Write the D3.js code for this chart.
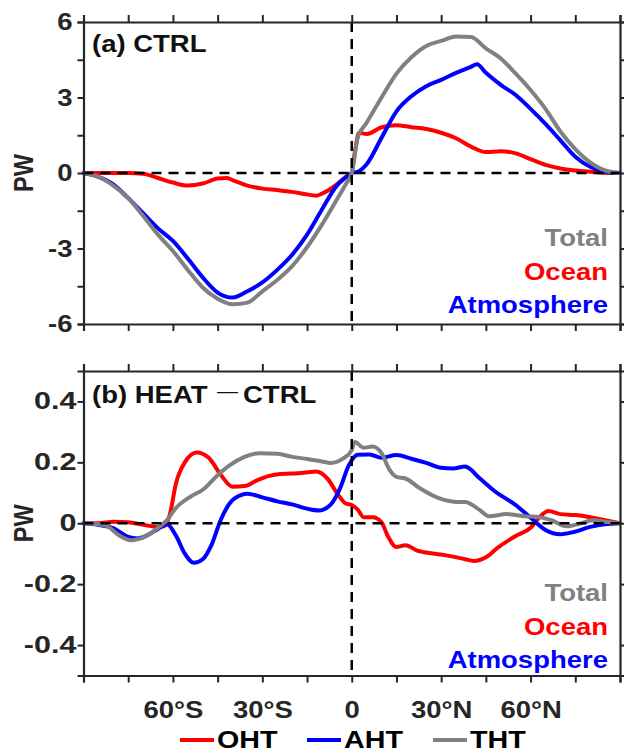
<!DOCTYPE html>
<html>
<head>
<meta charset="utf-8">
<script src="https://cdn.jsdelivr.net/npm/d3@7"></script>
<style>
  body { margin: 0; background: #fff; }
  svg text { font-family: "Liberation Sans", Arial, sans-serif; font-weight: bold; }
</style>
</head>
<body>
<div class="chart"></div>
<script>
// ---- data: (a) CTRL ----
const latOhtA = [-90, -85, -80, -75, -70, -65, -60, -55, -50, -45, -42, -40, -35, -30, -25, -20, -15, -12, -10, -5, -2, 0, 1, 2.5, 5, 10, 15, 20, 25, 30, 35, 40, 45, 50, 55, 60, 65, 70, 75, 80, 85, 90];
const ohtA = [0, 0, 0, 0, -0.03, -0.2, -0.38, -0.5, -0.42, -0.22, -0.2, -0.28, -0.5, -0.62, -0.68, -0.75, -0.85, -0.9, -0.82, -0.45, -0.15, 0, 0.8, 1.6, 1.55, 1.82, 1.9, 1.82, 1.75, 1.6, 1.38, 1.05, 0.83, 0.86, 0.78, 0.55, 0.32, 0.18, 0.1, 0.05, 0.01, 0];
const latAhtA = [-90, -85, -80, -75, -70, -65, -60, -55, -50, -45, -40, -35, -30, -25, -20, -15, -10, -5, -2, 0, 2, 5, 10, 15, 20, 25, 30, 35, 40, 42, 45, 50, 55, 60, 65, 70, 75, 80, 85, 90];
const ahtA = [0, -0.15, -0.45, -1.0, -1.6, -2.2, -2.7, -3.4, -4.15, -4.75, -4.95, -4.7, -4.35, -3.85, -3.25, -2.45, -1.45, -0.5, -0.18, 0, 0.05, 0.35, 1.4, 2.45, 3.05, 3.45, 3.7, 3.98, 4.22, 4.32, 3.98, 3.5, 3.1, 2.55, 1.95, 1.3, 0.65, 0.25, 0.05, 0];
const latThtA = [-90, -85, -80, -75, -70, -65, -60, -55, -50, -45, -40, -35, -30, -25, -20, -15, -10, -5, -2, 0, 2, 5, 10, 15, 20, 25, 30, 35, 40, 45, 50, 55, 60, 65, 70, 75, 80, 85, 90];
const thtA = [0, -0.15, -0.5, -1.0, -1.7, -2.45, -3.1, -3.85, -4.55, -5.0, -5.22, -5.15, -4.7, -4.25, -3.7, -2.95, -2.05, -1.05, -0.45, 0, 1.4, 2.0, 3.0, 3.95, 4.6, 5.05, 5.25, 5.42, 5.4, 4.95, 4.55, 3.95, 3.3, 2.55, 1.65, 0.95, 0.42, 0.1, 0];

// ---- data: (b) HEAT - CTRL ----
const latOhtB = [-90, -85, -80, -75, -70, -65, -63, -61, -59, -56, -52, -48, -44, -40, -36, -32, -28, -24, -20, -15, -12, -8, -5, -2, 0, 2, 4, 7, 10, 12, 15, 18, 22, 28, 33, 38, 41, 45, 49, 55, 60, 63, 66, 70, 75, 80, 85, 90];
const ohtB = [0, 0, 0.005, 0.003, -0.005, -0.012, -0.01, 0.03, 0.13, 0.2, 0.232, 0.215, 0.16, 0.12, 0.122, 0.14, 0.155, 0.162, 0.163, 0.167, 0.17, 0.145, 0.1, 0.065, 0.06, 0.045, 0.02, 0.02, 0.003, -0.04, -0.078, -0.072, -0.09, -0.1, -0.108, -0.118, -0.124, -0.112, -0.08, -0.042, -0.015, 0.02, 0.04, 0.03, 0.027, 0.02, 0.01, 0];
const latAhtB = [-90, -85, -80, -75, -72, -70, -66, -62, -59, -56, -53, -50, -47, -44, -41, -37, -35, -30, -25, -20, -15, -11, -7, -4, -1, 2, 6, 10, 15, 20, 25, 30, 34, 38, 43, 48, 55, 60, 65, 70, 74, 80, 85, 90];
const ahtB = [0, -0.005, -0.016, -0.045, -0.05, -0.046, -0.025, -0.003, -0.04, -0.1, -0.13, -0.118, -0.07, 0.01, 0.065, 0.093, 0.097, 0.085, 0.072, 0.062, 0.048, 0.042, 0.062, 0.113, 0.19, 0.225, 0.226, 0.215, 0.224, 0.212, 0.198, 0.182, 0.18, 0.186, 0.147, 0.105, 0.06, 0.018, -0.022, -0.036, -0.03, -0.012, -0.003, 0];
const latThtB = [-90, -85, -82, -78, -74, -69, -65, -62, -59, -54, -50, -45, -41, -36, -31, -25, -20, -15, -10, -7, -3, 0, 1, 4, 7, 10, 12.7, 15, 18, 23, 29, 35, 38, 43, 46, 52, 58, 63, 67, 72, 76, 81, 85, 90];
const thtB = [0, -0.003, -0.01, -0.04, -0.056, -0.042, -0.015, 0.01, 0.05, 0.088, 0.11, 0.158, 0.19, 0.218, 0.23, 0.228, 0.218, 0.211, 0.203, 0.198, 0.212, 0.24, 0.267, 0.248, 0.252, 0.23, 0.175, 0.152, 0.147, 0.114, 0.083, 0.07, 0.07, 0.043, 0.023, 0.03, 0.023, 0.02, 0.01, -0.01, -0.003, 0.01, 0.005, 0];

// ---- ticks / labels ----
const latTicks = d3.range(-90, 91, 15);
const latLabels = { "-60": "60°S", "-30": "30°S", "0": "0", "30": "30°N", "60": "60°N" };
const ticksA = d3.range(-6, 6.01, 1.5);
const labelTicksA = [-6, -3, 0, 3, 6];
const ticksB = [-0.4, -0.2, 0, 0.2, 0.4];
const legendNames = ["OHT", "AHT", "THT"];
const textLegend = ["Total", "Ocean", "Atmosphere"];

const COLORS = { oht: "#ff0000", aht: "#0000ff", tht: "#808080" };
const AXIS = "#262626";
const SX = 1.17;          // the original figure is a bit wider than tall
const FS = "23.5px";

const WIDTH = 624, HEIGHT = 754;
const LEFT = 83.5, RIGHT = 620;

const svg = d3.select(".chart").append("svg")
    .attr("width", WIDTH)
    .attr("height", HEIGHT);

const x = d3.scaleLinear().domain([-90, 90]).range([LEFT, RIGHT]);

function zip(lats, vals) {
    return lats.map((d, i) => [d, vals[i]]);
}

// plain hyphen like the original, not the unicode minus
const fmtNum = d => (d === 0 ? "0" : String(d));

function drawPanel(opt) {
    const y = d3.scaleLinear().domain(opt.domain).range([opt.bottom, opt.top]);
    const g = svg.append("g");

    const line = d3.line()
        .x(d => x(d[0]))
        .y(d => y(d[1]))
        .curve(d3.curveMonotoneX);

    // curves
    opt.series.forEach(s => {
        g.append("path")
            .datum(s.data)
            .attr("d", line)
            .attr("fill", "none")
            .attr("stroke", s.color)
            .attr("stroke-width", 4)
            .attr("stroke-linejoin", "round")
            .attr("stroke-linecap", "round");
    });

    // dashed zero lines
    g.append("line")
        .attr("x1", x(-90)).attr("x2", x(90))
        .attr("y1", y(0)).attr("y2", y(0))
        .attr("stroke", "#000").attr("stroke-width", 2.5)
        .attr("stroke-dasharray", "10,7");
    g.append("line")
        .attr("x1", x(0)).attr("x2", x(0))
        .attr("y1", opt.top).attr("y2", opt.bottom)
        .attr("stroke", "#000").attr("stroke-width", 2.5)
        .attr("stroke-dasharray", "10,7");

    // axes (box, outward ticks)
    const axes = [
        d3.axisBottom(x).tickValues(latTicks).tickSize(7)
            .tickFormat(d => opt.xLabels ? (latLabels[d] || "") : ""),
        d3.axisTop(x).tickValues(latTicks).tickSize(7).tickFormat(""),
        d3.axisLeft(y).tickValues(opt.ticks).tickSize(6)
            .tickFormat(d => opt.labelTicks.some(v => Math.abs(v - d) < 1e-9) ? fmtNum(d) : ""),
        d3.axisRight(y).tickValues(opt.ticks).tickSize(6).tickFormat("")
    ];
    const pos = [
        `translate(0,${opt.bottom})`, `translate(0,${opt.top})`,
        `translate(${LEFT},0)`, `translate(${RIGHT},0)`
    ];
    axes.forEach((a, i) => {
        const ax = g.append("g").attr("transform", pos[i]).call(a);
        ax.select(".domain").attr("stroke", AXIS).attr("stroke-width", 2.2);
        ax.selectAll(".tick line").attr("stroke", AXIS).attr("stroke-width", 2);
        ax.selectAll(".tick text")
            .attr("fill", "#262626")
            .style("font-size", FS);
        if (i === 0) {
            ax.selectAll(".tick text")
                .attr("y", 42.5).attr("dy", 0)
                .attr("transform", `scale(${SX},1)`);
        }
        if (i === 2) {
            ax.selectAll(".tick text")
                .attr("x", -opt.labelGap / opt.labelSX)
                .attr("transform", `scale(${opt.labelSX},1)`);
        }
    });

    // y label
    g.append("text")
        .attr("transform", `translate(33,${y(0)}) scale(${SX},1) rotate(-90)`)
        .attr("text-anchor", "middle")
        .attr("fill", "#262626")
        .style("font-size", FS)
        .text("PW");

    // panel title
    const title = g.append("text")
        .attr("transform", `translate(92,${opt.titleY}) scale(${SX},1)`)
        .attr("fill", "#111")
        .style("font-size", FS);
    opt.title.forEach(t => {
        const ts = title.append("tspan")
            .attr("x", t.x / SX)
            .style("font-weight", t.w || "bold")
            .text(t.s);
        if (t.size) ts.style("font-size", t.size);
        if (t.dy) ts.attr("dy", t.dy);
    });

    // text legend
    const lc = [COLORS.tht, COLORS.oht, COLORS.aht];
    textLegend.forEach((t, i) => {
        g.append("text")
            .attr("transform", `translate(608,${opt.legendY + i * 33.5}) scale(${SX},1)`)
            .attr("text-anchor", "end")
            .attr("fill", lc[i])
            .style("font-size", FS)
            .text(t);
    });
}

drawPanel({
    domain: [-6, 6], top: 22, bottom: 324,
    ticks: ticksA, labelTicks: labelTicksA,
    labelGap: 11, labelSX: SX,
    xLabels: false,
    titleY: 52,
    title: [{ s: "(a) CTRL", x: 0 }],
    legendY: 246,
    series: [
        { data: zip(latOhtA, ohtA), color: COLORS.oht },
        { data: zip(latAhtA, ahtA), color: COLORS.aht },
        { data: zip(latThtA, thtA), color: COLORS.tht }
    ]
});

drawPanel({
    domain: [-0.5, 0.5], top: 371, bottom: 675.5,
    ticks: ticksB, labelTicks: ticksB,
    labelGap: 7, labelSX: 1.3,
    xLabels: true,
    titleY: 403,
    title: [
        { s: "(b) HEAT", x: 0 },
        { s: "\u2014", x: 125, w: "normal", size: "18px", dy: -6 },
        { s: "CTRL", x: 151, dy: 6 }
    ],
    legendY: 601,
    series: [
        { data: zip(latOhtB, ohtB), color: COLORS.oht },
        { data: zip(latAhtB, ahtB), color: COLORS.aht },
        { data: zip(latThtB, thtB), color: COLORS.tht }
    ]
});

// bottom legend
const legX = [180, 307, 433];
legendNames.forEach((n, i) => {
    const c = [COLORS.oht, COLORS.aht, COLORS.tht][i];
    svg.append("line")
        .attr("x1", legX[i]).attr("x2", legX[i] + 34)
        .attr("y1", 740).attr("y2", 740)
        .attr("stroke", c).attr("stroke-width", 4);
    svg.append("text")
        .attr("transform", `translate(${legX[i] + 37},748) scale(1.22,1)`)
        .attr("fill", "#000")
        .style("font-size", "23.5px")
        .text(n);
});
</script>
</body>
</html>
